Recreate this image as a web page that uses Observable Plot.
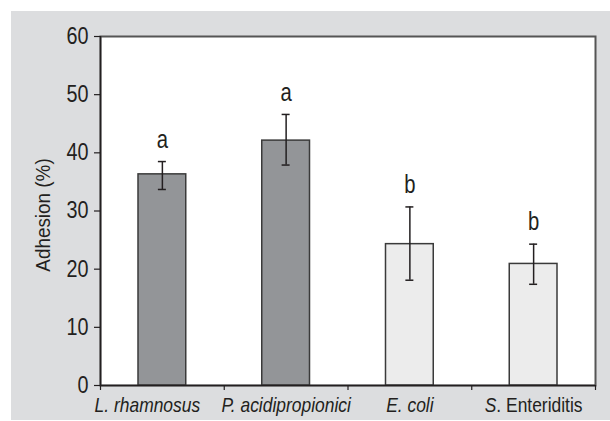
<!DOCTYPE html>
<html>
<head>
<meta charset="utf-8">
<script src="https://cdn.jsdelivr.net/npm/d3@7"></script>
<script src="https://cdn.jsdelivr.net/npm/@observablehq/plot@0.6"></script>
<style>
  html, body { margin: 0; padding: 0; background: #ffffff; }
  #wrap { position: relative; width: 610px; height: 421px; overflow: hidden; }
  #panel { position: absolute; left: 11px; top: 11px; right: 0; bottom: 1px; background: #dcdddf; }
  #chart { position: absolute; left: 0; top: 0; }
  #chart svg { background: transparent; }
</style>
</head>
<body>
<div id="wrap"><div id="panel"></div><div id="chart"></div></div>
<script>
// Data
const categories = ["L. rhamnosus", "P. acidipropionici", "E. coli", "S. Enteriditis"];
const italicPart = ["L. rhamnosus", "P. acidipropionici", "E. coli", "S"];
const romanPart = ["", "", "", ". Enteriditis"];
const adhesion = [36.3, 42.1, 24.3, 20.9];
const errHigh = [38.5, 46.6, 30.7, 24.3];
const errLow = [33.7, 37.9, 18.1, 17.4];
const letters = ["a", "a", "b", "b"];
const group = ["probiotic", "probiotic", "pathogen", "pathogen"];
const yTicks = [0, 10, 20, 30, 40, 50, 60];
const xBoundaries = [0, 1, 2, 3, 4];
const yTitle = "Adhesion (%)";

const data = categories.map((c, i) => ({
  i, c, v: adhesion[i], hi: errHigh[i], lo: errLow[i], letter: letters[i], g: group[i]
}));

const font = "'Liberation Sans', Arial, sans-serif";
const labelOpts = { x: d => d.i + 0.5, y: 0, text: "c", dy: 20, fontSize: 20.5, fontStyle: "italic", fill: "#231f20" };

const plot = Plot.plot({
  width: 610,
  height: 421,
  marginLeft: 100,
  marginRight: 15,
  marginTop: 36,
  marginBottom: 36,
  style: { fontFamily: font, background: "transparent", color: "#231f20" },
  x: { domain: [0, 4], axis: null },
  y: { domain: [0, 60], axis: null },
  color: { domain: ["probiotic", "pathogen"], range: ["#939598", "#ececec"] },
  marks: [
    Plot.frame({ fill: "white", stroke: "#555555", strokeWidth: 2 }),
    Plot.rectY(data, {
      x1: d => d.i, x2: d => d.i + 1, y1: 0, y2: "v",
      fill: "g", stroke: "#3a3a3a", strokeWidth: 1.5,
      insetLeft: 38, insetRight: 38
    }),
    // error bars
    Plot.ruleX(data, { x: d => d.i + 0.5, y1: "lo", y2: "hi", stroke: "#231f20", strokeWidth: 1.5 }),
    Plot.ruleY(data, { y: "hi", x1: d => d.i + 0.5, x2: d => d.i + 0.5, insetLeft: -4, insetRight: -4, stroke: "#231f20", strokeWidth: 1.5 }),
    Plot.ruleY(data, { y: "lo", x1: d => d.i + 0.5, x2: d => d.i + 0.5, insetLeft: -4, insetRight: -4, stroke: "#231f20", strokeWidth: 1.5 }),
    // significance letters
    Plot.text(data, { x: d => d.i + 0.5, y: "hi", text: "letter", dy: -22, fontSize: 26, fill: "#231f20" }),
    // axes lines
    Plot.ruleX([0], { stroke: "#231f20", strokeWidth: 1.5 }),
    Plot.ruleY([0], { stroke: "#231f20", strokeWidth: 1.5 }),
    // y axis ticks and labels
    Plot.axisY(yTicks, { anchor: "left", tickSize: 6, tickPadding: 6, fontSize: 23, stroke: "#231f20", strokeWidth: 1.2, label: null }),
    // x boundary ticks
    Plot.ruleX(xBoundaries, { x: d => d, y1: 0, y2: 0, insetBottom: -5, stroke: "#231f20", strokeWidth: 1.2 }),
    // category labels (the first one sits a little left of its band, as in the reference)
    Plot.text(data.filter(d => d.i === 0), { ...labelOpts, dx: -15 }),
    Plot.text(data.filter(d => d.i > 0), labelOpts),
    // y axis title
    Plot.text([yTitle], { frameAnchor: "left", textAnchor: "middle", dx: -57, dy: 4, rotate: -90, fontSize: 21, fill: "#231f20", text: d => d })
  ]
});

// Mixed italic/roman category label and condensed glyphs (like the reference's narrow face)
function squeeze(el, s) {
  el.setAttribute("transform", ((el.getAttribute("transform") || "") + ` scale(${s},1)`).trim());
}
plot.querySelectorAll("text").forEach(el => {
  const s = el.textContent;
  const k = categories.indexOf(s);
  if (k >= 0) {
    if (romanPart[k]) {
      while (el.firstChild) el.removeChild(el.firstChild);
      const a = document.createElementNS("http://www.w3.org/2000/svg", "tspan");
      a.setAttribute("font-style", "italic"); a.textContent = italicPart[k];
      const b = document.createElementNS("http://www.w3.org/2000/svg", "tspan");
      b.setAttribute("font-style", "normal"); b.textContent = romanPart[k];
      el.appendChild(a); el.appendChild(b);
    }
    squeeze(el, 0.85);
  } else if (letters.includes(s)) {
    squeeze(el, 0.78);
  } else if (s === yTitle) {
    squeeze(el, 0.9);
  } else if (/^\d+$/.test(s)) {
    squeeze(el, 0.86);
  }
});

document.getElementById("chart").appendChild(plot);
</script>
</body>
</html>
